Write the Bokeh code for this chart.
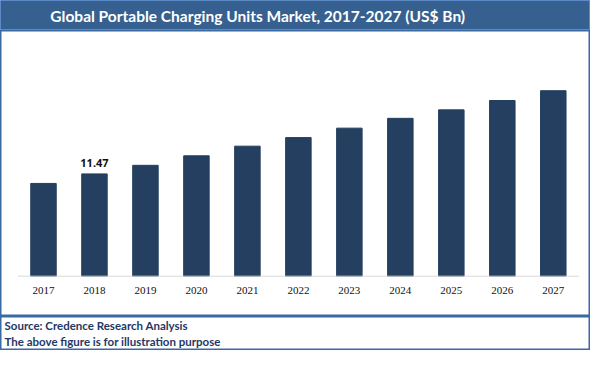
from bokeh.plotting import figure
from bokeh.models import Range1d, Label, LabelSet, ColumnDataSource
from bokeh.layouts import column
from bokeh.core.properties import value
from bokeh.embed import file_html
from bokeh.resources import INLINE

title_text = "Global Portable Charging Units Market, 2017-2027 (US$ Bn)"
years = ["2017", "2018", "2019", "2020", "2021", "2022", "2023", "2024", "2025", "2026", "2027"]
market = [10.40, 11.47, 12.43, 13.50, 14.58, 15.54, 16.60, 17.70, 18.65, 19.70, 20.80]
label_year = "2018"
label_value = 11.47
source_lines = ["Source: Credence Research Analysis", "The above figure is for illustration purpose"]

W = 590
H_TITLE, H_MAIN, H_FOOT = 30, 286, 34
TITLE_BG = "#36608f"
BORDER = "#3a6aa3"
BAR = "#243f60"
FOOT = "#1f3864"


def bare(fig):
    fig.axis.visible = False
    fig.grid.visible = False
    fig.min_border_left = fig.min_border_right = fig.min_border_top = fig.min_border_bottom = 0
    return fig


# ---- title bar
t = bare(figure(width=W, height=H_TITLE, output_backend="svg", toolbar_location=None,
                x_range=Range1d(0, 1), y_range=Range1d(0, 1)))
t.background_fill_color = TITLE_BG
t.border_fill_color = TITLE_BG
t.outline_line_color = "#5b8ac4"
t.add_layout(Label(x=0.436, y=0.5, text=title_text, text_align="center", text_baseline="middle",
                   text_color="white", text_font="Lato", text_font_style="bold",
                   text_font_size="15.5px"))

# ---- main chart
idx = list(range(len(years)))
m = bare(figure(width=W, height=H_MAIN, output_backend="svg", toolbar_location=None,
                x_range=Range1d(-0.843, len(years) - 0.5 + 0.23), y_range=Range1d(-4.52, 27.55)))
m.outline_line_color = BORDER
m.outline_line_width = 2
src = ColumnDataSource(dict(x=idx, top=market, year=years, zero=[0] * len(years)))
m.vbar(x="x", top="top", width=0.5, color=BAR, source=src)
m.segment(x0=[-0.5], y0=[0], x1=[len(years) - 0.5], y1=[0], line_color="#d9d9d9", line_width=1)
m.add_layout(LabelSet(x="x", y="zero", text="year", source=src, y_offset=-14,
                      text_align="center", text_baseline="middle", text_font="Noto Sans",
                      text_font_size="11px", text_color="#111111"))
li = years.index(label_year)
m.text(x=[li], y=[label_value], text=[f"{label_value:.2f}"], text_align="center",
       text_baseline="bottom", y_offset=-7, text_font=value("Noto Sans"),
       text_font_style="bold", text_font_size="11px", text_color="#111111")

# ---- footer
f = bare(figure(width=W, height=H_FOOT, output_backend="svg", toolbar_location=None,
                x_range=Range1d(0, W), y_range=Range1d(0, H_FOOT)))
f.outline_line_color = BORDER
f.outline_line_width = 2
for i, s in enumerate(source_lines):
    f.add_layout(Label(x=4, y=H_FOOT - 9 - i * 16, text=s, text_align="left", text_baseline="middle",
                       text_color=FOOT, text_font="Lato", text_font_style="bold",
                       text_font_size="11.5px"))

page = column(t, m, f, spacing=0)
open("out.html", "w").write(file_html(page, INLINE))
